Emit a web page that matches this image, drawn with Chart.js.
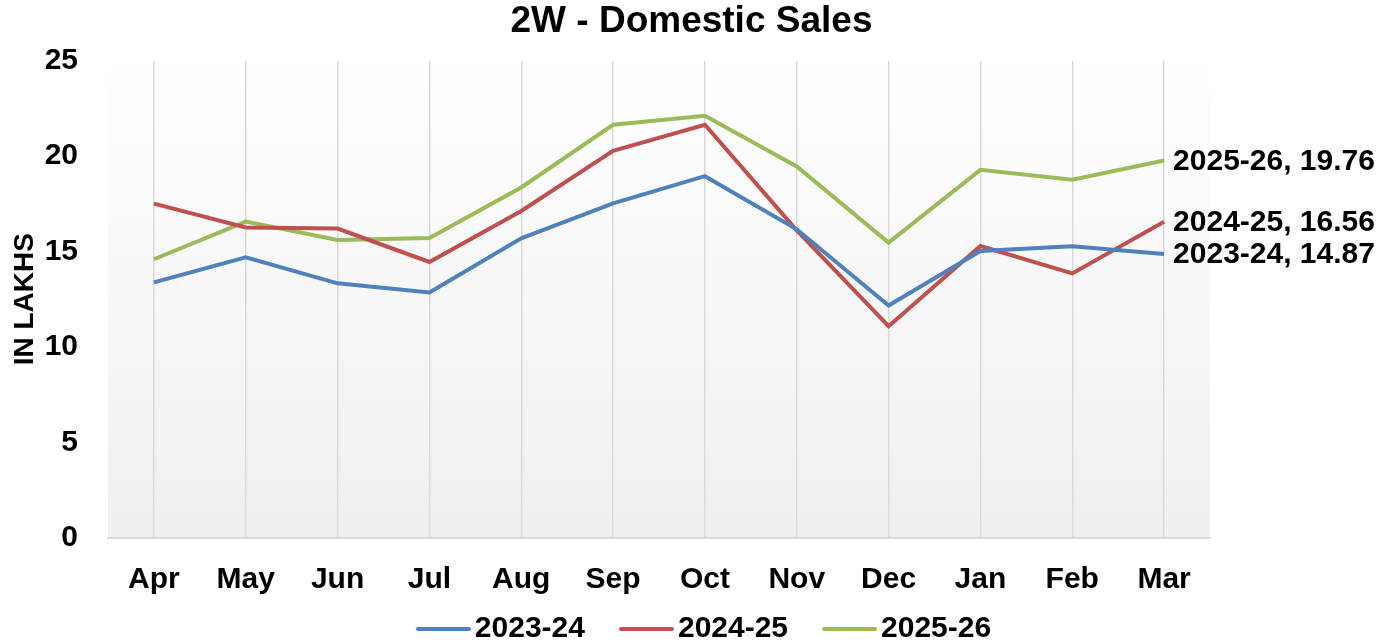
<!DOCTYPE html>
<html>
<head>
<meta charset="utf-8">
<script src="https://cdn.jsdelivr.net/npm/chart.js@4.4.1/dist/chart.umd.min.js"></script>
<style>
  html, body { margin: 0; padding: 0; background: #fff; }
  #wrap { width: 1383px; height: 642px; }
</style>
</head>
<body>
<div id="wrap"><canvas id="salesChart"></canvas></div>
<script>
const months = ['Apr', 'May', 'Jun', 'Jul', 'Aug', 'Sep', 'Oct', 'Nov', 'Dec', 'Jan', 'Feb', 'Mar'];
const seriesNames = ['2023-24', '2024-25', '2025-26'];
const sales2324 = [13.38, 14.69, 13.33, 12.85, 15.69, 17.52, 18.94, 16.16, 12.17, 15.02, 15.27, 14.87];
const sales2425 = [17.50, 16.25, 16.20, 14.45, 17.12, 20.27, 21.63, 16.10, 11.09, 15.28, 13.85, 16.56];
const sales2526 = [14.59, 16.56, 15.60, 15.70, 18.35, 21.63, 22.10, 19.45, 15.46, 19.27, 18.75, 19.76];
const yTicks = [0, 5, 10, 15, 20, 25];

const colors = ['#4F81BD', '#C0504D', '#9BBB59'];
const FONT = "'Liberation Sans', Arial, sans-serif";

// legend marker: short line, sitting close to its text
function legendLine(color) {
    const c = document.createElement('canvas');
    c.width = 90;
    c.height = 8;
    const g = c.getContext('2d');
    g.strokeStyle = color;
    g.lineWidth = 4;
    g.lineCap = 'round';
    g.beginPath();
    g.moveTo(37, 4);
    g.lineTo(88, 4);
    g.stroke();
    return c;
}

const plotBackground = {
    id: 'plotBackground',
    beforeDraw(chart) {
        const { ctx, chartArea: a } = chart;
        const grad = ctx.createLinearGradient(0, a.top, 0, a.bottom);
        grad.addColorStop(0, '#ffffff');
        grad.addColorStop(1, '#efefef');
        ctx.save();
        ctx.fillStyle = grad;
        ctx.fillRect(a.left, a.top - 40, a.right - a.left, a.bottom - a.top + 40);
        ctx.restore();
    }
};

const endLabels = {
    id: 'endLabels',
    afterDatasetsDraw(chart) {
        const ctx = chart.ctx;
        ctx.save();
        ctx.font = 'bold 30px ' + FONT;
        ctx.fillStyle = '#000';
        ctx.textBaseline = 'middle';
        ctx.textAlign = 'left';
        chart.data.datasets.forEach((ds, i) => {
            const meta = chart.getDatasetMeta(i);
            const last = meta.data.length - 1;
            const pt = meta.data[last];
            ctx.fillText(ds.label + ', ' + ds.data[last].toFixed(2), pt.x + 9, pt.y + 1);
        });
        ctx.restore();
    }
};

const seriesData = [sales2324, sales2425, sales2526];

new Chart(document.getElementById('salesChart'), {
    type: 'line',
    data: {
        labels: months,
        datasets: seriesNames.map((name, i) => ({
            label: name,
            data: seriesData[i],
            borderColor: colors[i],
            backgroundColor: colors[i],
            borderWidth: 4,
            pointRadius: 0,
            pointHoverRadius: 0,
            tension: 0,
            pointStyle: legendLine(colors[i])
        }))
    },
    options: {
        responsive: true,
        maintainAspectRatio: false,
        animation: false,
        layout: { padding: { top: 0, right: 0, bottom: -12, left: 0 } },
        plugins: {
            title: {
                display: true,
                text: '2W - Domestic Sales',
                color: '#000',
                font: { family: FONT, size: 37, weight: 'bold' },
                padding: { top: 0, bottom: 16 }
            },
            legend: {
                position: 'bottom',
                labels: {
                    usePointStyle: true,
                    pointStyleWidth: 68,
                    padding: 10,
                    color: '#000',
                    font: { family: FONT, size: 30, weight: 'bold' }
                }
            },
            tooltip: { enabled: false }
        },
        scales: {
            x: {
                offset: true,
                afterFit: (scale) => { scale.height = 66; },
                grid: { display: true, color: '#d9d9d9', lineWidth: 1.5, drawTicks: false, offset: false },
                border: { display: true, color: '#d9d9d9', width: 2 },
                ticks: {
                    color: '#000',
                    padding: 24,
                    maxRotation: 0,
                    autoSkip: false,
                    font: { family: FONT, size: 30, weight: 'bold' }
                }
            },
            y: {
                min: 0,
                max: 25,
                afterFit: (scale) => { scale.width = 108; },
                afterBuildTicks: (scale) => { scale.ticks = yTicks.map(v => ({ value: v })); },
                grid: { display: false, drawTicks: false },
                border: { display: false },
                ticks: {
                    color: '#000',
                    padding: 30,
                    font: { family: FONT, size: 30, weight: 'bold' }
                },
                title: {
                    display: true,
                    text: 'IN LAKHS',
                    color: '#000',
                    padding: { top: 8, bottom: 0 },
                    font: { family: FONT, size: 28, weight: 'bold' }
                }
            },
            // empty right-hand axis: keeps room for the end labels
            yRight: {
                position: 'right',
                min: 0,
                max: 25,
                afterFit: (scale) => { scale.width = 173; },
                grid: { display: false, drawTicks: false },
                border: { display: false },
                ticks: { display: false }
            }
        }
    },
    plugins: [plotBackground, endLabels]
});
</script>
</body>
</html>
